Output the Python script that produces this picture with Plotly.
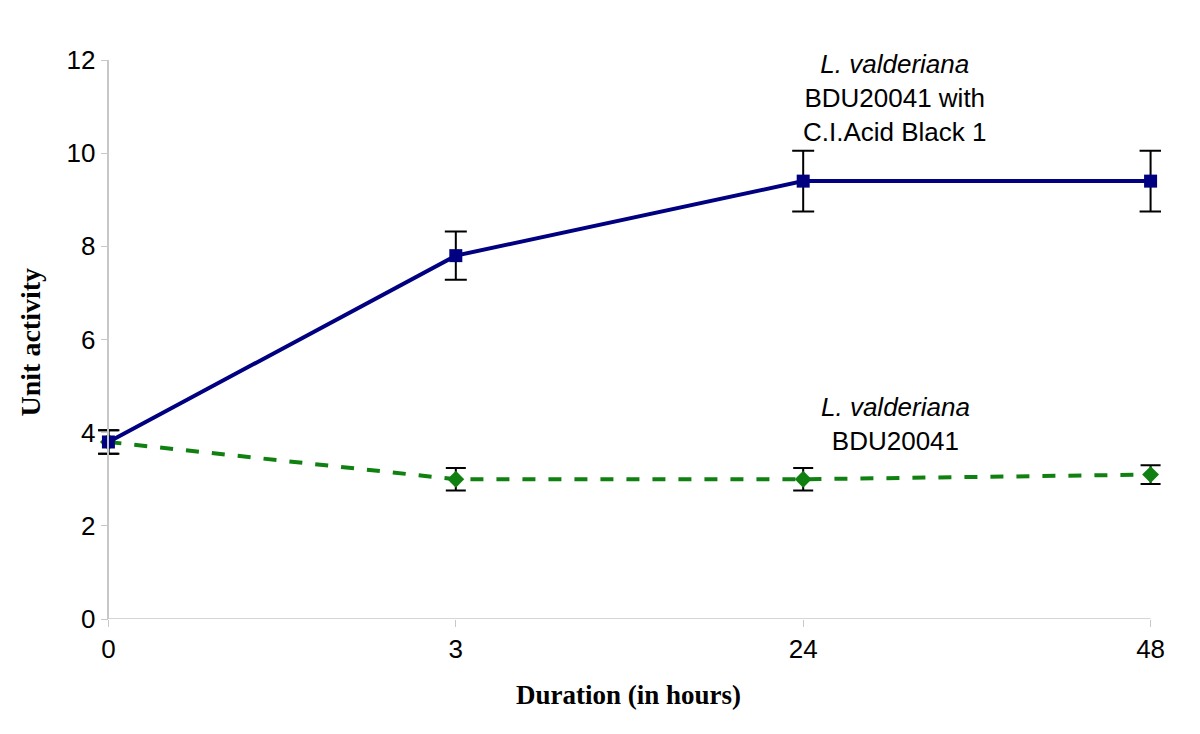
import plotly.graph_objects as go

durations = ["0", "3", "24", "48"]
treated = [3.8, 7.8, 9.4, 9.4]
treated_err = [0.25, 0.52, 0.65, 0.65]
control = [3.8, 3.0, 3.0, 3.1]
control_err = [0.25, 0.24, 0.24, 0.2]

fig = go.Figure()
fig.add_trace(go.Scatter(
    x=durations, y=control, mode="lines+markers",
    line=dict(color="#108010", width=4, dash="13px,13px"),
    marker=dict(symbol="diamond", size=13, color="#108010"),
    error_y=dict(type="data", array=control_err, color="black", thickness=2, width=10),
    cliponaxis=False, showlegend=False))
fig.add_trace(go.Scatter(
    x=durations, y=treated, mode="lines+markers",
    line=dict(color="#000080", width=4),
    marker=dict(symbol="square", size=13, color="#000080"),
    error_y=dict(type="data", array=treated_err, color="black", thickness=2, width=11),
    cliponaxis=False, showlegend=False))

# page body has an 8px margin; work in figure pixel coordinates
OFF = 8
W, H = 1200, 734
PAD = 0.03  # category padding so error-bar caps at the ends are not clipped
x0_px, x3_px = 108 - OFF, 1151 - OFF          # pixel positions of first / last category
unit = (x3_px - x0_px) / 3.0
plot_l, plot_r = x0_px - PAD * unit, x3_px + PAD * unit
plot_t, plot_b = 60 - OFF, 619 - OFF

def px_to_paper(px, py):
    return ((px - OFF - plot_l) / (plot_r - plot_l),
            (plot_b - (py - OFF)) / (plot_b - plot_t))

ann_font = dict(family="Liberation Sans, Arial", size=26, color="black")
fig.add_annotation(x=2.265, y=px_to_paper(0, 47)[1], xref="x", yref="paper", yanchor="top",
                   xanchor="center", showarrow=False,
                   text="<i>L. valderiana</i><br>BDU20041 with<br>C.I.Acid Black 1",
                   font=ann_font)
fig.add_annotation(x=2.265, y=px_to_paper(0, 390)[1], xref="x", yref="paper", yanchor="top",
                   xanchor="center", showarrow=False,
                   text="<i>L. valderiana</i><br>BDU20041", font=ann_font)

title_font = dict(family="Liberation Serif, Times New Roman", size=27, color="black")
tx, ty = px_to_paper(628, 695)
fig.add_annotation(x=tx, y=ty, xref="paper", yref="paper", showarrow=False,
                   xanchor="center", yanchor="middle",
                   text="<b>Duration (in hours)</b>", font=title_font)
tx, ty = px_to_paper(30, 342)
fig.add_annotation(x=tx, y=ty, xref="paper", yref="paper", showarrow=False,
                   xanchor="center", yanchor="middle",
                   text="<b>Unit activity</b>",
                   font=dict(family="Liberation Serif, Times New Roman", size=28, color="black"),
                   textangle=-90)

# x-axis baseline from first to last category only
fig.add_shape(type="line", xref="x", yref="y", x0=0, x1=3, y0=0, y1=0,
              line=dict(color="#c8c8c8", width=1.5), layer="below")

fig.update_layout(
    width=W, height=H,
    margin=dict(l=plot_l, r=W - plot_r, t=plot_t, b=H - plot_b, autoexpand=False),
    plot_bgcolor="white", paper_bgcolor="white",
    font=dict(family="Liberation Sans, Arial", size=26, color="black"),
    xaxis=dict(type="category", range=[-PAD, 3 + PAD], showgrid=False, showline=False,
               ticks="outside", ticklen=7,
               tickcolor="#c8c8c8", zeroline=False, automargin=False,
               tickfont=dict(family="Liberation Sans, Arial", size=26)),
    yaxis=dict(range=[0, 12], dtick=2, showgrid=False, showline=True,
               anchor="free", position=PAD / (3 + 2 * PAD),
               linecolor="#c8c8c8", linewidth=1.5, ticks="outside", ticklen=7,
               tickcolor="#c8c8c8", zeroline=False, automargin=False,
               tickfont=dict(family="Liberation Sans, Arial", size=26)),
)

fig.write_html("out.html")
